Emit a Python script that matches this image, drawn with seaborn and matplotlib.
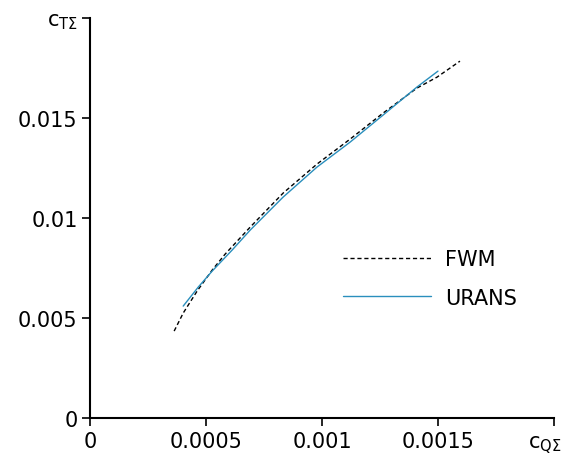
import matplotlib
matplotlib.use('Agg')
import matplotlib.pyplot as plt
import matplotlib.transforms as mtransforms
import pandas as pd
import seaborn as sns

# values
fwm_cq = [0.000362, 0.000401, 0.000461, 0.000526, 0.000582, 0.00069, 0.000832,
          0.000978, 0.001121, 0.001263, 0.001409, 0.001496, 0.001595]
fwm_ct = [0.00435, 0.00525, 0.00635, 0.0074, 0.0082, 0.00955, 0.01125,
          0.0127, 0.01395, 0.01525, 0.0165, 0.01705, 0.01785]
urans_cq = [0.000401, 0.000466, 0.000526, 0.000612, 0.00069, 0.000832,
            0.000978, 0.001121, 0.001263, 0.001409, 0.0015]
urans_ct = [0.0056, 0.00655, 0.00735, 0.0084, 0.0094, 0.01105,
            0.01255, 0.0138, 0.01515, 0.01655, 0.01735]

x_ticks = [0, 0.0005, 0.001, 0.0015, 0.002]
x_labels = ['0', '0.0005', '0.001', '0.0015', r'c$_{\mathrm{Q\Sigma}}$']
y_ticks = [0, 0.005, 0.01, 0.015, 0.02]
y_labels = ['0', '0.005', '0.01', '0.015', r'c$_{\mathrm{T\Sigma}}$']

df = pd.concat([
    pd.DataFrame({'cq': fwm_cq, 'ct': fwm_ct, 'model': 'FWM'}),
    pd.DataFrame({'cq': urans_cq, 'ct': urans_ct, 'model': 'URANS'}),
])

sns.set_theme(style='ticks')
plt.rcParams['font.family'] = ['DejaVu Sans']
plt.rcParams['text.color'] = 'black'

fig = plt.figure(figsize=(5.64, 4.56), dpi=100)
ax = fig.add_axes([0.16, 0.081, 0.822, 0.877])

sns.lineplot(data=df, x='cq', y='ct', hue='model', style='model',
             palette={'FWM': 'black', 'URANS': '#2a8fbd'},
             dashes={'FWM': (3, 2), 'URANS': ''},
             sort=False, estimator=None, linewidth=1, ax=ax)

ax.set_xlim(0, 0.002)
ax.set_ylim(0, 0.02)
ax.set_xticks(x_ticks)
ax.set_xticklabels(x_labels, fontsize=15)
ax.set_yticks(y_ticks)
ax.set_yticklabels(y_labels, fontsize=15)
ax.set_xlabel('')
ax.set_ylabel('')
ax.tick_params(direction='out', length=6, width=1.2, color='black',
               labelcolor='black', pad=3)
sns.despine(ax=ax)
for s in ['left', 'bottom']:
    ax.spines[s].set_linewidth(1.5)
    ax.spines[s].set_color('black')

# nudge the axis-name label at the right end so it stays inside the figure
lab = ax.get_xticklabels()[-1]
lab.set_transform(lab.get_transform() +
                  mtransforms.ScaledTranslation(-0.09, -0.03, fig.dpi_scale_trans))

leg = ax.legend(title=None, frameon=False, fontsize=15, loc='upper left',
                bbox_to_anchor=(0.505, 0.47), handlelength=4.2,
                handletextpad=0.7, labelspacing=0.9)
for t in leg.get_texts():
    t.set_color('black')

fig.savefig('out.png', dpi=100)
